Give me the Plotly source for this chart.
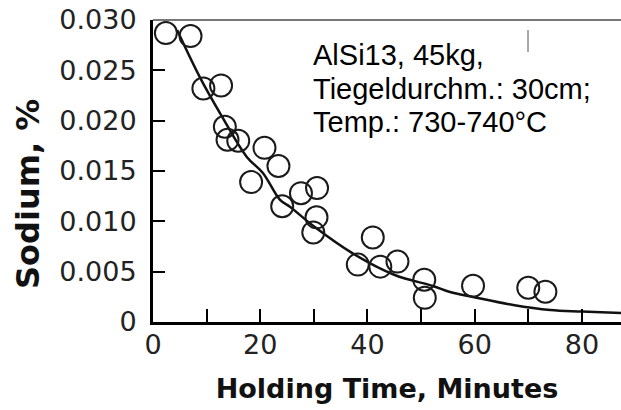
import plotly.graph_objects as go

# Measured data points (holding time in minutes, sodium in %)
time_min = [2.4, 7.0, 9.4, 12.7, 13.4, 13.9, 15.9, 18.3, 20.8, 23.4, 24.1, 27.6,
            30.6, 30.5, 29.9, 38.2, 41.0, 42.4, 45.6, 50.6, 50.7, 59.7, 70.0, 73.2]
sodium = [0.0287, 0.0284, 0.0232, 0.0235, 0.0194, 0.0181, 0.0180, 0.0139, 0.0173,
          0.0155, 0.0115, 0.0128, 0.0133, 0.0104, 0.0089, 0.0057, 0.0084, 0.0055,
          0.0060, 0.0042, 0.0024, 0.0036, 0.0034, 0.0030]

# Fitted curve
curve_t = [4.5, 8.8, 12.9, 17.5, 20.5, 23.7, 25.6, 30.0, 37.1, 45.1, 52.2, 55.4,
           59.7, 67.2, 74.1, 80.0, 87.3]
curve_na = [0.0290, 0.02425, 0.02038, 0.0164, 0.0148, 0.01213, 0.01143, 0.0095,
            0.00686, 0.00467, 0.00358, 0.00298, 0.00249, 0.00169, 0.00119,
            0.00104, 0.00089]

x_ticks = [0, 10, 20, 30, 40, 50, 60, 70, 80]
x_ticktext = ["0", "", "20", "", "40", "", "60", "", "80"]
y_ticks = [0, 0.005, 0.010, 0.015, 0.020, 0.025, 0.030]
y_ticktext = ["0", "0.005", "0.010", "0.015", "0.020", "0.025", "0.030"]

x_title = "Holding Time, Minutes"
y_title = "Sodium, %"
note_lines = ["AlSi13, 45kg,", "Tiegeldurchm.: 30cm;", "Temp.: 730-740°C"]

fig = go.Figure()
fig.add_trace(go.Scatter(x=curve_t, y=curve_na, mode="lines",
                         line=dict(color="#111", width=2.5, shape="spline", smoothing=1.0),
                         showlegend=False, hoverinfo="skip"))
fig.add_trace(go.Scatter(x=time_min, y=sodium, mode="markers",
                         marker=dict(symbol="circle-open", size=22, color="#1a1a1a",
                                     line=dict(width=2, color="#1a1a1a")),
                         showlegend=False))

tick_font = dict(family="DejaVu Sans", size=27, color="#222")
title_font_x = dict(family="DejaVu Sans", size=27, color="#111", weight="bold")
title_font_y = dict(family="DejaVu Sans", size=32, color="#111", weight="bold")

fig.update_xaxes(range=[0, 87.3], showline=True, linecolor="black", linewidth=2.5,
                 ticks="inside", ticklen=13, tickwidth=2, tickcolor="black",
                 tickvals=x_ticks, ticktext=x_ticktext, tickfont=tick_font,
                 ticklabelstandoff=-3,
                 showgrid=False, zeroline=False,
                 title=dict(text=x_title, font=title_font_x, standoff=20))
fig.update_yaxes(range=[0, 0.030], showline=True, linecolor="black", linewidth=3,
                 ticks="inside", ticklen=12, tickwidth=2, tickcolor="black",
                 tickvals=y_ticks, ticktext=y_ticktext, tickfont=tick_font,
                 ticklabelstandoff=8,
                 showgrid=False, zeroline=False)

# y-axis title placed as rotated text (sits lower than the plot middle in the original)
fig.add_annotation(x=-(153 - 28) / 468, y=(322 - 194) / 302, xref="paper", yref="paper",
                   text=y_title, textangle=-90, showarrow=False,
                   xanchor="center", yanchor="middle", font=title_font_y)

# top frame line (grey, as in the scan)
fig.add_shape(type="line", xref="paper", yref="paper", x0=0, x1=1, y0=1, y1=1,
              line=dict(color="#777", width=2))
# small scan artifact
fig.add_shape(type="line", xref="paper", yref="paper", x0=(528 - 153) / 468, x1=(528 - 153) / 468,
              y0=(322 - 30) / 302, y1=(322 - 52) / 302, line=dict(color="#555", width=1))

for txt, ypix in zip(note_lines, [55, 89, 122]):
    fig.add_annotation(x=(311 - 153) / 468, y=(322 - ypix) / 302, xref="paper", yref="paper",
                       text=txt, showarrow=False, xanchor="left", yanchor="middle",
                       font=dict(family="Liberation Sans", size=29, color="black"))

fig.update_layout(width=621, height=410, margin=dict(l=153, r=0, t=20, b=88),
                  plot_bgcolor="white", paper_bgcolor="white")

fig.write_html("out.html")
